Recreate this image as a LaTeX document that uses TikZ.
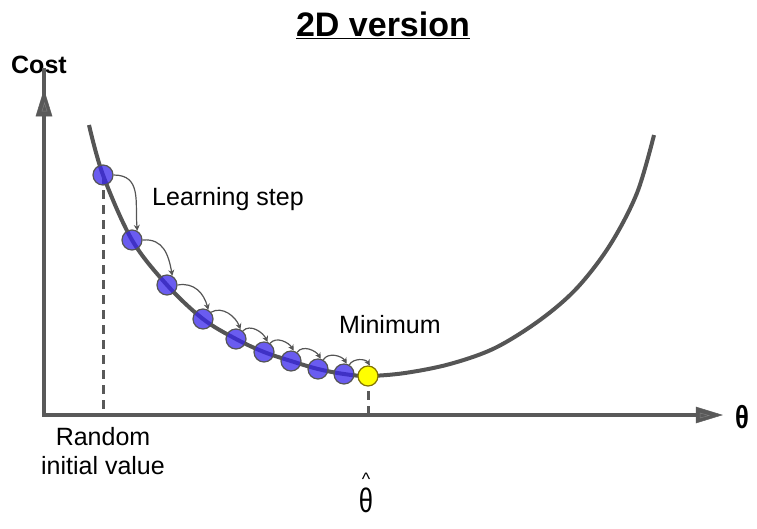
\documentclass[tikz,border=0pt]{standalone}
\usepackage{fontspec}
\setmainfont{Liberation Sans}
\usetikzlibrary{arrows.meta}
\definecolor{axisgray}{RGB}{89,89,89}
\definecolor{innergray}{RGB}{125,125,125}
\definecolor{curvegray}{RGB}{85,85,85}
\definecolor{ballblue}{RGB}{56,37,235}
\definecolor{ballyellow}{RGB}{255,255,0}
\definecolor{yellowedge}{RGB}{130,115,0}
\tikzset{
  axisline/.style={draw=axisgray, line width=4pt},
  axishead/.style={fill=axisgray, draw=axisgray, line width=0.5pt},
  innertip/.style={draw=innergray, line width=0.5pt},
  costcurve/.style={draw=curvegray, line width=4pt},
  guide/.style={draw=axisgray, line width=3pt, dash pattern=on 9pt off 6pt},
  ball/.style={circle, minimum size=20pt, inner sep=0pt, fill=ballblue, fill opacity=0.75, draw=curvegray, draw opacity=1, line width=1.2pt},
  bestball/.style={circle, minimum size=20pt, inner sep=0pt, fill=ballyellow, draw=yellowedge, line width=1.2pt},
  stepline/.style={draw=curvegray, line width=1.2pt, -{Stealth[length=6pt,width=6pt]}},
  lbl/.style={inner sep=0pt, font=\fontsize{25pt}{30pt}\selectfont},
}
\begin{document}
\begin{tikzpicture}[x=1pt, y=-1pt]
\useasboundingbox (0,0) rectangle (757,528);
% title and axis labels
\node[inner sep=0pt, anchor=base, font=\fontsize{34pt}{40pt}\selectfont\bfseries] (title) at (383,36) {\underline{2D version}};
\node[lbl, anchor=base west, font=\fontsize{25pt}{30pt}\selectfont\bfseries] (cost) at (11,73) {Cost};
% axes
\coordinate (O) at (44,415);
\coordinate (ytip) at (44,90);
\coordinate (xtip) at (722,415);
\draw[axisline] ([yshift=2pt]O) -- ([yshift=22pt]ytip);
\draw[axisline] ([xshift=-2pt]O) -- ([xshift=-22pt]xtip);
\filldraw[axishead] (ytip) -- (36,116) -- (52,116) -- cycle;
\filldraw[axishead] (xtip) -- (696,407) -- (696,423) -- cycle;
\draw[innertip] (44.5,103) -- (42,111) -- (47,111) -- cycle;
\draw[innertip] (709,415.5) -- (700,413) -- (700,418) -- cycle;
\node[inner sep=0pt, font=\fontsize{32pt}{32pt}\selectfont\bfseries] (theta) at (742,417) {\scalebox{0.8}[1]{θ}};
% curve
\coordinate (p1) at (103,175);
\coordinate (p2) at (132,240);
\coordinate (p3) at (167,285);
\coordinate (p4) at (203,319);
\coordinate (p5) at (236,339);
\coordinate (p6) at (264,352);
\coordinate (p7) at (291,361);
\coordinate (p8) at (318,369);
\coordinate (p9) at (344,374);
\coordinate (pm) at (368,376);
\draw[costcurve] plot[smooth, tension=0.55] coordinates {(89,125) (103,175) (132,240) (167,285) (203,319) (236,339) (264,352) (291,361) (318,369) (344,374) (368,376) (405,373) (450,364) (495,348) (540,320) (577,288) (610,245) (637,193) (654,135)};
% dashed guides
\coordinate (g1) at (103,415);
\coordinate (gm) at (368,415);
\draw[guide] (p1) -- (g1);
\draw[guide] (pm) -- (gm);
% balls
\foreach \i in {1,...,9} {\node[ball] (b\i) at (p\i) {};}
\node[bestball] (bm) at (pm) {};
% steps
\draw[stepline] (b1.east) to[out=0, in=95, looseness=1.2] (b2.60);
\draw[stepline] (b2.east) to[out=5, in=100, looseness=1.15] (b3.60);
\draw[stepline] (b3.east) to[out=10, in=105, looseness=1.1] (b4.60);
\draw[stepline] (b4.40) to[out=30, in=110] (b5.65);
\draw[stepline] (b5.50) to[out=45, in=115] (b6.70);
\draw[stepline] (b6.55) to[out=50, in=120] (b7.75);
\draw[stepline] (b7.55) to[out=55, in=120] (b8.75);
\draw[stepline] (b8.60) to[out=60, in=120] (b9.75);
\draw[stepline] (b9.60) to[out=60, in=120] (bm.80);
% labels
\node[lbl, anchor=base west] (learn) at (152,205) {Learning step};
\node[lbl, anchor=base west] (mini) at (339,333) {Minimum};
\node[lbl, anchor=north, align=center, font=\fontsize{25pt}{29pt}\selectfont] (rand) at (103,427) {Random\\initial value};
\node[inner sep=0pt, anchor=base, font=\fontsize{34pt}{34pt}\selectfont] (thetahat) at (366,512) {\ooalign{\scalebox{0.75}[1]{θ}\cr\hidewidth\raisebox{27pt}{\fontsize{18pt}{18pt}\selectfont\textasciicircum}\hidewidth\cr}};
\end{tikzpicture}
\end{document}
